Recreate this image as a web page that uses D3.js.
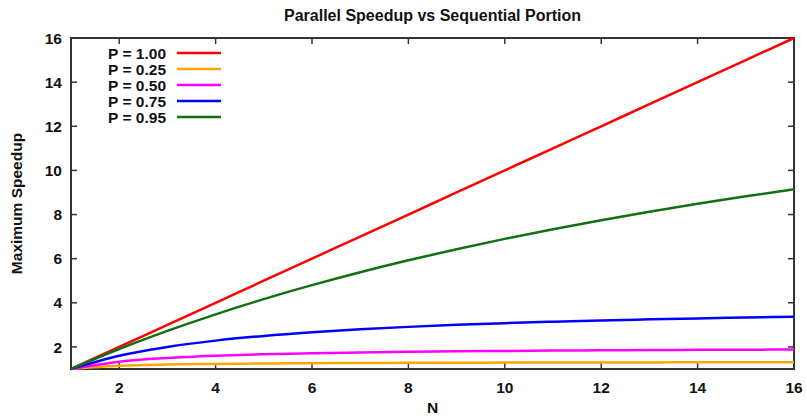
<!DOCTYPE html>
<html><head><meta charset="utf-8">
<script src="https://cdn.jsdelivr.net/npm/d3@7"></script>
<style>body{margin:0;background:#fff}svg{display:block}text{font-family:"Liberation Sans",Arial,sans-serif;font-weight:bold;fill:#111}</style>
</head><body>
<script>
const N = [1,2,3,4,5,6,7,8,9,10,11,12,13,14,15,16];
const seriesNames = ["P = 1.00","P = 0.25","P = 0.50","P = 0.75","P = 0.95"];
const seriesColors = ["#ff0000","#ffa500","#ff00ff","#0000ff","#127012"];
const p100 = [1,2,3,4,5,6,7,8,9,10,11,12,13,14,15,16];
const p025 = [1,1.143,1.2,1.231,1.25,1.263,1.273,1.28,1.286,1.29,1.294,1.297,1.3,1.302,1.304,1.306];
const p050 = [1,1.333,1.5,1.6,1.667,1.714,1.75,1.778,1.8,1.818,1.833,1.846,1.857,1.867,1.875,1.882];
const p075 = [1,1.6,2.0,2.286,2.5,2.667,2.8,2.909,3.0,3.077,3.143,3.2,3.25,3.294,3.333,3.368];
const p095 = [1,1.905,2.727,3.478,4.167,4.8,5.385,5.926,6.429,6.897,7.333,7.742,8.125,8.485,8.824,9.143];
const seriesValues = [p100,p025,p050,p075,p095];
const xTicks = [2,4,6,8,10,12,14,16];
const yTicks = [2,4,6,8,10,12,14,16];
const title = "Parallel Speedup vs Sequential Portion";
const xLabel = "N", yLabel = "Maximum Speedup";

const W=807,H=416, m={l:71,t:38,r:13,b:47};
const iw=W-m.l-m.r, ih=H-m.t-m.b;
const svg=d3.select("body").append("svg").attr("width",W).attr("height",H);
const g=svg.append("g").attr("transform",`translate(${m.l},${m.t})`);
const x=d3.scaleLinear().domain([1,16]).range([0,iw]);
const y=d3.scaleLinear().domain([1,16]).range([ih,0]);
const axisColor="#333";
const fs=15.5;

const tl=6;
xTicks.forEach(t=>{
  g.append("line").attr("x1",x(t)).attr("x2",x(t)).attr("y1",ih).attr("y2",ih-tl).attr("stroke",axisColor).attr("stroke-width",1.5);
  g.append("line").attr("x1",x(t)).attr("x2",x(t)).attr("y1",0).attr("y2",tl).attr("stroke",axisColor).attr("stroke-width",1.5);
  g.append("text").attr("x",x(t)).attr("y",ih+24).attr("text-anchor","middle").attr("font-size",fs).text(t);
});
yTicks.forEach(t=>{
  g.append("line").attr("x1",0).attr("x2",tl).attr("y1",y(t)).attr("y2",y(t)).attr("stroke",axisColor).attr("stroke-width",1.5);
  g.append("line").attr("x1",iw).attr("x2",iw-tl).attr("y1",y(t)).attr("y2",y(t)).attr("stroke",axisColor).attr("stroke-width",1.5);
  g.append("text").attr("x",-9).attr("y",y(t)).attr("dy","0.36em").attr("text-anchor","end").attr("font-size",fs).text(t);
});
g.append("rect").attr("x",0).attr("y",0).attr("width",iw).attr("height",ih).attr("fill","none").attr("stroke",axisColor).attr("stroke-width",2);

const line=d3.line().x((d,i)=>x(N[i])).y(d=>y(d)).curve(d3.curveMonotoneX);
seriesValues.forEach((vals,k)=>{
  g.append("path").datum(vals).attr("d",line).attr("fill","none").attr("stroke",seriesColors[k]).attr("stroke-width",2.5);
});

seriesNames.forEach((nm,k)=>{
  const ly=15+k*16;
  g.append("text").attr("x",95).attr("y",ly).attr("dy","0.36em").attr("text-anchor","end").attr("font-size",fs).text(nm);
  g.append("line").attr("x1",106).attr("x2",150).attr("y1",ly).attr("y2",ly).attr("stroke",seriesColors[k]).attr("stroke-width",2.5);
});

svg.append("text").attr("x",m.l+iw/2).attr("y",21).attr("text-anchor","middle").attr("font-size",16).text(title);
svg.append("text").attr("x",m.l+iw/2).attr("y",413).attr("text-anchor","middle").attr("font-size",fs).text(xLabel);
svg.append("text").attr("transform",`translate(22,${m.t+ih/2}) rotate(-90)`).attr("text-anchor","middle").attr("font-size",fs).text(yLabel);
</script>
</body></html>
